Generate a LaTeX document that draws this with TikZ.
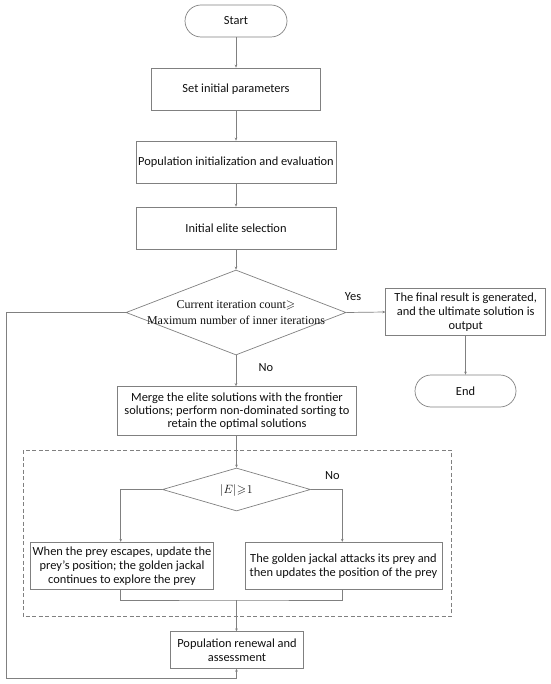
\documentclass[tikz,border=0pt]{standalone}
\usepackage{amssymb}
\usepackage{fontspec}
\setmainfont{Carlito}
\newfontfamily\serifdia{Liberation Serif}
\usetikzlibrary{shapes.geometric,arrows.meta}
\definecolor{linec}{RGB}{128,128,128}
\definecolor{txtc}{RGB}{15,15,15}
\tikzset{
  every node/.style={font=\fontsize{12.4}{14}\selectfont, text=txtc},
  boxnode/.style={draw=linec, line width=0.7pt, inner sep=0pt, align=center},
  termnode/.style={boxnode, rounded corners=16pt},
  dianode/.style={draw=linec, line width=0.7pt, shape=diamond, inner sep=0pt},
  lbl/.style={inner sep=0pt},
  conn/.style={draw=linec, line width=0.7pt},
  arr/.style={conn, -{Stealth[length=3pt,width=2.6pt]}},
}
\begin{document}
\begin{tikzpicture}[x=1pt,y=-1pt]
\useasboundingbox (0,0) rectangle (550,684);
% main column
\node[termnode, minimum width=102pt, minimum height=32pt] (start) at (236,21) {Start};
\node[boxnode, minimum width=169pt, minimum height=42pt] (set) at (236,89) {Set initial parameters};
\node[boxnode, minimum width=200pt, minimum height=42pt] (init) at (236,162) {Population initialization and evaluation};
\node[boxnode, minimum width=200pt, minimum height=42pt] (elite) at (236,228) {Initial elite selection};
\node[dianode, minimum width=220pt, minimum height=85pt] (d1) at (236,312.5) {};
\node[lbl, align=center, font=\serifdia\fontsize{12}{16}\selectfont] (d1t) at (236,313) {Current iteration count$\geqslant$\\Maximum number of inner iterations};
\node[boxnode, minimum width=160pt, minimum height=47pt] (final) at (465.7,312) {The final result is generated,\\and the ultimate solution is\\output};
\node[termnode, minimum width=101pt, minimum height=32pt] (end) at (465.5,391) {End};
\node[boxnode, minimum width=239pt, minimum height=49pt, font=\fontsize{12.4}{13.2}\selectfont] (merge) at (237,411) {Merge the elite solutions with the frontier\\solutions; perform non-dominated sorting to\\retain the optimal solutions};
\node[dianode, minimum width=148pt, minimum height=43pt] (d2) at (236.5,489.5) {};
\node[lbl, font=\serifdia\fontsize{12}{14}\selectfont] (d2t) at (236.5,490) {$|E|\mskip1mu{\geqslant}\mskip1mu 1$};
\node[boxnode, minimum width=183pt, minimum height=47pt] (lbox) at (122,565.7) {When the prey escapes, update the\\prey's position; the golden jackal\\continues to explore the prey};
\node[boxnode, minimum width=197pt, minimum height=47pt] (rbox) at (343.5,565.7) {The golden jackal attacks its prey and\\then updates the position of the prey};
\node[boxnode, minimum width=132.5pt, minimum height=36.7pt] (pop) at (237,650) {Population renewal and\\assessment};
% labels
\node[lbl] (yes) at (353,297) {Yes};
\node[lbl] (no1) at (266,368) {No};
\node[lbl] (no2) at (332.3,476) {No};
% dashed frame
\draw[draw=linec, line width=0.7pt, dash pattern=on 4pt off 2.5pt] (23.3,450) rectangle (451.3,616.7);
% connectors
\draw[arr] (start) -- (set);
\draw[arr] (set) -- (init);
\draw[arr] (init) -- (elite);
\draw[arr] (elite) -- (d1.north);
\draw[arr] (d1.east) -- (final.west);
\draw[arr] (final.south -| end.north) -- (end.north);
\draw[arr] (d1.south) -- (merge.north -| d1.south);
\draw[arr] (merge.south -| d2.north) -- (d2.north);
\coordinate (lb) at (120.7,0);
\coordinate (rb) at (342.3,0);
\draw[arr] (d2.west) -| (lb |- lbox.north);
\draw[arr] (d2.east) -| (rb |- rbox.north);
\coordinate (mj) at (236.5,600);
\draw[conn] (lb |- lbox.south) |- (mj) -| (rb |- rbox.south);
\draw[arr] (mj) -- (mj |- pop.north);
\coordinate (lp) at (6,678.3);
\draw[arr] (d1.west) -| (lp) -| (mj |- pop.south);
\end{tikzpicture}
\end{document}
